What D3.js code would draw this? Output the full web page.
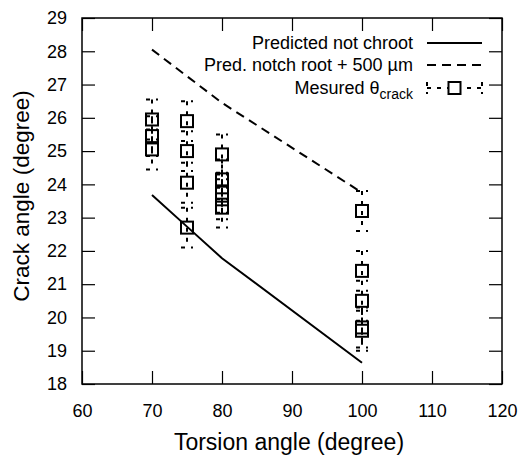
<!DOCTYPE html>
<html>
<head>
<meta charset="utf-8">
<script src="https://cdn.jsdelivr.net/npm/d3@7"></script>
<style>
  html, body { margin: 0; padding: 0; background: #fff; }
  svg { display: block; }
  text { font-family: "Liberation Sans", Arial, Helvetica, sans-serif; fill: #000; }
</style>
</head>
<body>
<svg id="chart" width="520" height="459"></svg>
<script>
// Torsion angles used for the predicted curves
const predTorsion = [70, 75, 80, 100];
// Predicted crack angle, no chroot
const predNotChroot = [23.68, 22.73, 21.78, 18.64];
// Predicted crack angle at notch root + 500 µm
const predNotch500 = [28.05, 27.25, 26.45, 23.75];

// Measured crack angles with their scatter
const measTorsion = [70, 70, 70, 75, 75, 75, 75, 80, 80, 80, 80, 80, 100, 100, 100, 100, 100];
const measCrack   = [25.95, 25.45, 25.05, 25.9, 25.0, 24.05, 22.7, 24.9, 24.15, 23.75, 23.55, 23.3, 23.2, 21.4, 20.5, 19.7, 19.6];
const measErr     = [0.6, 0.6, 0.6, 0.6, 0.6, 0.6, 0.6, 0.6, 0.6, 0.6, 0.6, 0.6, 0.6, 0.6, 0.6, 0.6, 0.6];

const xTicks = [60, 70, 80, 90, 100, 110, 120];
const yTicks = [18, 19, 20, 21, 22, 23, 24, 25, 26, 27, 28, 29];

const xTitle = "Torsion angle (degree)";
const yTitle = "Crack angle (degree)";
const legendLabels = ["Predicted not chroot", "Pred. notch root + 500 µm", "Mesured θ"];

const svg = d3.select("#chart");
const L = 82, R = 502, T = 18, B = 384;
const x = d3.scaleLinear().domain([60, 120]).range([L, R]);
const y = d3.scaleLinear().domain([18, 29]).range([B, T]);

const tickLen = 13;
const fontTick = 18;

// Axes with inward ticks on all four sides
const gx = svg.append("g").attr("transform", `translate(0,${B})`)
  .call(d3.axisBottom(x).tickValues(xTicks).tickSizeInner(-tickLen).tickSizeOuter(0).tickPadding(20));
const gy = svg.append("g").attr("transform", `translate(${L},0)`)
  .call(d3.axisLeft(y).tickValues(yTicks).tickSizeInner(-tickLen).tickSizeOuter(0).tickPadding(15));
const gt = svg.append("g").attr("transform", `translate(0,${T})`)
  .call(d3.axisTop(x).tickValues(xTicks).tickSizeInner(-tickLen).tickSizeOuter(0).tickFormat(""));
const gr = svg.append("g").attr("transform", `translate(${R},0)`)
  .call(d3.axisRight(y).tickValues(yTicks).tickSizeInner(-tickLen).tickSizeOuter(0).tickFormat(""));

[gx, gy, gt, gr].forEach(g => {
  g.select(".domain").remove();
  g.selectAll(".tick line").attr("stroke", "#000").attr("stroke-width", 1.2);
  g.selectAll(".tick text").style("font-size", fontTick + "px")
    .style("font-family", '"Liberation Sans", Arial, sans-serif').attr("fill", "#000");
});

// Plot frame
svg.append("rect").attr("x", L).attr("y", T).attr("width", R - L).attr("height", B - T)
  .attr("fill", "none").attr("stroke", "#000").attr("stroke-width", 1.5);

// Axis titles
svg.append("text").attr("x", 289).attr("y", 450).attr("text-anchor", "middle")
  .style("font-size", "23px").text(xTitle);
svg.append("text").attr("transform", "translate(29,196) rotate(-90)").attr("text-anchor", "middle")
  .style("font-size", "22.5px").text(yTitle);

// Predicted curves
const line = d3.line().x(d => x(d[0])).y(d => y(d[1]));
svg.append("path").datum(predTorsion.map((t, i) => [t, predNotChroot[i]]))
  .attr("d", line).attr("fill", "none").attr("stroke", "#000").attr("stroke-width", 2);
svg.append("path").datum(predTorsion.map((t, i) => [t, predNotch500[i]]))
  .attr("d", line).attr("fill", "none").attr("stroke", "#000").attr("stroke-width", 2)
  .attr("stroke-dasharray", "9,6");

// Measured points: dashed error bars with caps, open squares
const capW = 6, sq = 12;
const meas = measTorsion.map((t, i) => ({ t, v: measCrack[i], e: measErr[i] }));
svg.append("g").selectAll("path").data(meas).join("path")
  .attr("d", d => {
    const cx = x(d.t), top = y(d.v + d.e), bot = y(d.v - d.e);
    return `M${cx - capW},${top}H${cx + capW}M${cx},${top}V${bot}M${cx - capW},${bot}H${cx + capW}`;
  })
  .attr("fill", "none").attr("stroke", "#000").attr("stroke-width", 2).attr("stroke-dasharray", "4,6");
svg.append("g").selectAll("rect").data(meas).join("rect")
  .attr("x", d => x(d.t) - sq / 2).attr("y", d => y(d.v) - sq / 2)
  .attr("width", sq).attr("height", sq)
  .attr("fill", "none").attr("stroke", "#000").attr("stroke-width", 2);

// Legend
const lgTextX = 413, lgX0 = 427, lgX1 = 482;
const lgY = [43, 65, 88];
const lg = svg.append("g");
legendLabels.forEach((lab, i) => {
  const t = lg.append("text").attr("x", lgTextX).attr("y", lgY[i]).attr("dy", "0.35em")
    .attr("text-anchor", "end").style("font-size", "18px");
  t.append("tspan").text(lab);
  if (i === 2) t.append("tspan").attr("dy", "5").style("font-size", "14px").text("crack");
});
lg.append("line").attr("x1", lgX0).attr("x2", lgX1).attr("y1", lgY[0]).attr("y2", lgY[0])
  .attr("stroke", "#000").attr("stroke-width", 2);
lg.append("line").attr("x1", lgX0).attr("x2", lgX1).attr("y1", lgY[1]).attr("y2", lgY[1])
  .attr("stroke", "#000").attr("stroke-width", 2).attr("stroke-dasharray", "9,6");
const my = lgY[2], mx = (lgX0 + lgX1) / 2;
lg.append("path")
  .attr("d", `M${lgX0},${my - 6}V${my + 6}M${lgX0},${my}H${lgX1}M${lgX1},${my - 6}V${my + 6}`)
  .attr("fill", "none").attr("stroke", "#000").attr("stroke-width", 2).attr("stroke-dasharray", "4,6");
lg.append("rect").attr("x", mx - sq / 2).attr("y", my - sq / 2).attr("width", sq).attr("height", sq)
  .attr("fill", "#fff").attr("stroke", "#000").attr("stroke-width", 2);
</script>
</body>
</html>
